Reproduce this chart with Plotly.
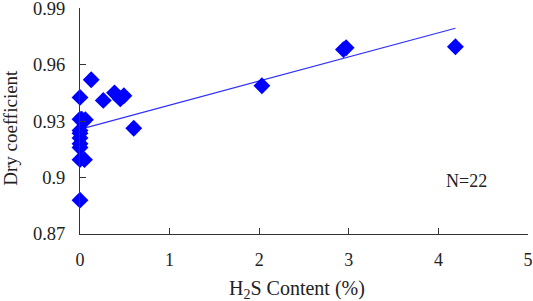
import numpy as np
import plotly.graph_objects as go

h2s = [0, 0, 0.05, 0, 0, 0, 0, 0, 0.02, 0.06, 0, 0, 0.125, 0.26, 0.385, 0.45, 0.49, 0.60, 2.03, 2.94, 2.97, 4.19]
dry = [0.888, 0.9095, 0.9095, 0.916, 0.918, 0.921, 0.9235, 0.925, 0.931, 0.9307, 0.931, 0.9426, 0.952, 0.941, 0.945, 0.9418, 0.9435, 0.9262, 0.9488, 0.968, 0.969, 0.9695]
x_ticks = [0, 1, 2, 3, 4, 5]
y_ticks = [0.87, 0.9, 0.93, 0.96, 0.99]
y_tick_text = ["0.87", "0.9", "0.93", "0.96", "0.99"]

slope, intercept = np.polyfit(h2s, dry, 1)
xf = np.array([0.06, max(h2s)])
yf = slope * xf + intercept

fig = go.Figure()
fig.add_trace(go.Scatter(x=xf, y=yf, mode="lines", line=dict(color="#2f2fff", width=1.2),
                         showlegend=False, hoverinfo="skip"))
fig.add_trace(go.Scatter(x=h2s, y=dry, mode="markers",
                         marker=dict(symbol="diamond", size=13, color="#0000ff"),
                         showlegend=False, cliponaxis=False))

font = "Liberation Serif, Times New Roman, serif"
fig.update_layout(
    width=533, height=301,
    margin=dict(l=80, r=5, t=8, b=67),
    plot_bgcolor="white", paper_bgcolor="white",
    font=dict(family=font, size=18, color="#222"),
    xaxis=dict(range=[0, 5.0001], tickvals=x_ticks, showgrid=False, zeroline=False,
               showline=True, linecolor="#333", linewidth=1, ticks="inside", ticklen=6,
               tickcolor="#333", tickfont=dict(size=18), automargin=False,
               ticklabelstandoff=9, ticklabeloverflow="allow"),
    yaxis=dict(range=[0.87, 0.9901], tickvals=y_ticks, ticktext=y_tick_text, showgrid=False,
               zeroline=False, showline=True, linecolor="#333", linewidth=1, ticks="inside",
               ticklen=6, tickcolor="#333", tickfont=dict(size=18.5), automargin=False,
               ticklabelstandoff=10, ticklabeloverflow="allow"),
    annotations=[
        dict(text="N=22", x=0.862, y=0.233, xref="paper", yref="paper", showarrow=False,
             font=dict(size=18), xanchor="center", yanchor="middle"),
        dict(text="H<sub>2</sub>S Content (%)", x=0.484, y=-0.245, xref="paper", yref="paper",
             showarrow=False, font=dict(size=20), xanchor="center", yanchor="middle"),
        dict(text="Dry coefficient", x=-0.154, y=0.47, xref="paper", yref="paper",
             showarrow=False, font=dict(size=19), textangle=-90,
             xanchor="center", yanchor="middle"),
    ],
)
fig.write_html("out.html", config={"displayModeBar": False},
               post_script="document.body.style.margin='0';document.body.style.overflow='hidden';")
